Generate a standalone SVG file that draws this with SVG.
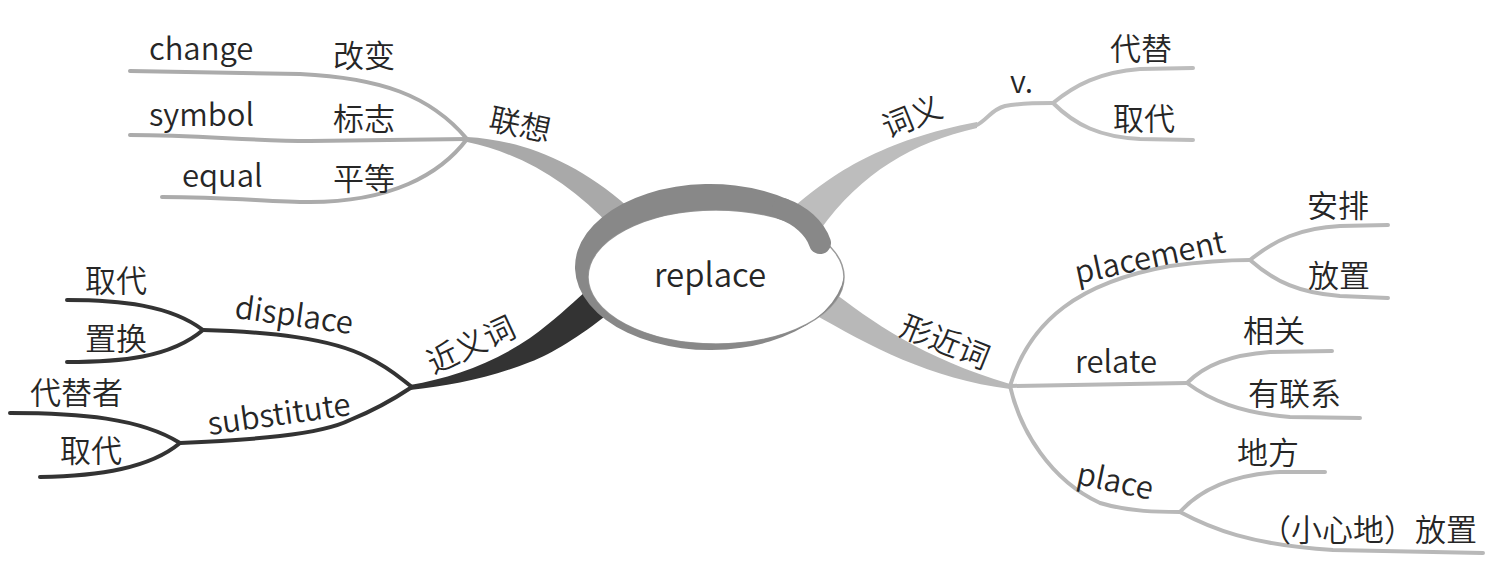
<svg xmlns="http://www.w3.org/2000/svg" width="1506" height="573" viewBox="0 0 1506 573">
<style>
text{font-family:"Noto Sans CJK SC","Noto Sans",sans-serif;font-size:31px;font-weight:350;fill:#262626}
.c{text-anchor:middle}
.lg{fill:none;stroke:#ababab;stroke-width:4;stroke-linecap:round}
.vl{fill:none;stroke:#bdbdbd;stroke-width:4;stroke-linecap:round}
.xl{fill:none;stroke:#b8b8b8;stroke-width:4;stroke-linecap:round}
.dk{fill:none;stroke:#333;stroke-width:4;stroke-linecap:round}
</style>
<rect width="1506" height="573" fill="#fff"/>
<g id="connectors">
<path d="M467,137 C520,140 575,160 628,207 L612,228 C570,182 520,153 467,142 Z" fill="#a9a9a9"/>
<path d="M795,206 C832,174 882,140 977,122 L977,128 C912,143 862,172 820,230 Z" fill="#bdbdbd"/>
<path d="M410,385 C450,378 492,364 530,338 C555,320 570,305 585,292 L608,314 C580,336 552,354 530,362 C490,378 450,386 410,390 Z" fill="#333"/>
<path d="M828,288 C872,322 922,358 1010,384 L1010,389 C930,379 870,346 812,313 Z" fill="#b8b8b8"/>
<path class="lg" d="M130,71 L300,74 C380,78 430,95 467,139"/>
<path class="lg" d="M130,135 C200,135 250,141 310,141 L467,139"/>
<path class="lg" d="M162,197 C230,197 270,202 310,202 C390,202 440,175 467,139"/>
<path class="vl" d="M975,126 C988,120 990,110 1005,106 C1020,103 1035,103 1053,103"/>
<path class="vl" d="M1053,103 C1075,85 1100,72 1140,69 L1193,68"/>
<path class="vl" d="M1053,103 C1075,125 1100,137 1140,139 L1193,140"/>
<path class="dk" d="M67,300 C120,300 170,305 203,330"/>
<path class="dk" d="M67,362 C120,362 170,358 203,330"/>
<path class="dk" d="M203,330 C270,332 330,338 367,357 C390,368 400,378 412,387"/>
<path class="dk" d="M10,413 C80,413 140,418 180,443"/>
<path class="dk" d="M40,477 C100,476 150,468 180,443"/>
<path class="dk" d="M180,443 C250,440 320,435 350,420 C380,408 400,395 412,387"/>
<path class="xl" d="M1010,386 C1030,320 1080,282 1170,266 C1200,262 1230,260 1250,260"/>
<path class="xl" d="M1250,260 C1275,240 1300,228 1340,226 L1388,225"/>
<path class="xl" d="M1250,260 C1275,282 1300,293 1340,296 L1388,298"/>
<path class="xl" d="M1010,386 L1187,383"/>
<path class="xl" d="M1187,383 C1205,365 1230,355 1270,352 L1332,351"/>
<path class="xl" d="M1187,383 C1210,400 1240,413 1290,417 L1360,418"/>
<path class="xl" d="M1010,386 C1020,430 1050,480 1100,503 C1130,512 1160,512 1180,512"/>
<path class="xl" d="M1180,512 C1200,490 1230,475 1280,472 L1325,472"/>
<path class="xl" d="M1180,512 C1210,528 1250,545 1333,550 L1483,553"/>
</g>
<g id="center">
<ellipse cx="716" cy="277" rx="128" ry="67" fill="#fff" stroke="#9a9a9a" stroke-width="1.5"/>
<path d="M790,200.2 A135 83 0 1 0 845,267 L844,277 A128 67 0 1 1 790,222.3 Z" fill="#888"/>
<path d="M783,209 C800,215 815,228 820,243" fill="none" stroke="#888" stroke-width="22" stroke-linecap="round"/>
<text class="c" x="710" y="287" style="font-size:33px">replace</text>
</g>
<g id="n-lianxiang"><text class="c" transform="translate(520,125) rotate(12)" y="11">联想</text></g>
<g id="n-change"><text x="149" y="60">change</text><text x="333" y="67">改变</text></g>
<g id="n-symbol"><text x="149" y="126">symbol</text><text x="333" y="130">标志</text></g>
<g id="n-equal"><text x="182" y="187">equal</text><text x="333" y="190">平等</text></g>
<g id="n-ciyi"><text class="c" transform="translate(912,117) rotate(-22)" y="11">词义</text></g>
<g id="n-v"><text x="1010" y="93">v.</text></g>
<g id="n-daiti"><text x="1110" y="60">代替</text></g>
<g id="n-qudai1"><text x="1113" y="130">取代</text></g>
<g id="n-jinyici"><text class="c" transform="translate(471,345) rotate(-25)" y="11">近义词</text></g>
<g id="n-displace"><text class="c" transform="translate(294,316) rotate(8)" y="10">displace</text></g>
<g id="n-qudai2"><text x="85" y="292">取代</text></g>
<g id="n-zhihuan"><text x="85" y="350">置换</text></g>
<g id="n-substitute"><text class="c" transform="translate(279,415) rotate(-8)" y="10">substitute</text></g>
<g id="n-daitizhe"><text x="30" y="404">代替者</text></g>
<g id="n-qudai3"><text x="60" y="462">取代</text></g>
<g id="n-xingjinci"><text class="c" transform="translate(945,342) rotate(22)" y="11">形近词</text></g>
<g id="n-placement"><text class="c" transform="translate(1150,258) rotate(-12)" y="10">placement</text></g>
<g id="n-anpai"><text x="1307" y="217">安排</text></g>
<g id="n-fangzhi1"><text x="1308" y="287">放置</text></g>
<g id="n-relate"><text x="1075" y="373">relate</text></g>
<g id="n-xiangguan"><text x="1243" y="342">相关</text></g>
<g id="n-youlianxi"><text x="1248" y="405">有联系</text></g>
<g id="n-place"><text class="c" transform="translate(1115,482) rotate(12)" y="10">place</text></g>
<g id="n-difang"><text x="1237" y="464">地方</text></g>
<g id="n-fangzhi2"><text x="1260" y="541">（小心地）放置</text></g>
</svg>
